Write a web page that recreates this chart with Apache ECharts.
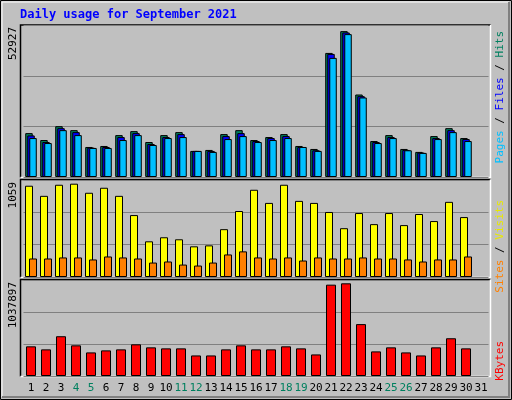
<!DOCTYPE html>
<html>
<head>
<meta charset="UTF-8">
<title>Daily usage</title>
<style>
  body{margin:0;background:#fff;}
  #chart{width:512px;height:400px;}
</style>
</head>
<body>
<div id="chart"></div>
<script src="https://cdn.jsdelivr.net/npm/echarts@6/dist/echarts.min.js"></script>
<script>
var days = ['1','2','3','4','5','6','7','8','9','10','11','12','13','14','15','16','17','18','19','20','21','22','23','24','25','26','27','28','29','30','31'];
var weekend = ['4','5','11','12','18','19','25','26'];

var hits  = [15925,13410,18440,17000,10895,11255,15205,16640,12690,15205,16285,9460,9815,15565,17000,13410,14490,15565,11255,10175,45020,52927,29930,13050,15205,10175,9100,14845,17720,14130,null];
var files = [15085,12690,17720,16285,10655,10895,14490,15925,11975,14490,15565,9460,9460,14845,15925,13050,14130,14845,10895,9700,44660,52445,29335,12690,14490,9815,8860,14130,17000,13770,null];
var pages = [14130,12330,17000,15205,10535,10535,13410,15205,11615,14130,14490,9460,9100,13770,14845,12690,13410,14130,10895,9460,43220,51845,28855,12330,14130,9700,8740,13770,16285,13050,null];

var visits = [1036,921,1047,1059,956,1013,921,703,405,451,428,348,359,543,749,990,841,1047,864,841,738,554,726,600,726,589,715,635,853,680,null];
var sites  = [210,210,222,222,199,233,222,210,164,176,141,130,164,256,291,222,210,222,187,222,210,210,222,210,210,199,176,199,199,233,null];

var kbytes = [332110,298150,445330,343430,264180,286820,298150,354760,320790,309470,309470,230210,230210,298150,343430,298150,298150,332110,309470,241540,1022750,1037897,581200,275500,320790,264180,230210,320790,422690,309470,null];

var chart = echarts.init(document.getElementById('chart'));
var mono = 'DejaVu Sans Mono';

function grid(top, height){
  return {left: 23.5, width: 465, top: top, height: height};
}
function yAx(i, max){
  return {gridIndex: i, min: 0, max: max, interval: max / 3,
    axisLabel: {show: false}, axisLine: {show: false}, axisTick: {show: false},
    splitLine: {lineStyle: {color: '#808080', width: 1}}};
}
function xAx(i, labels){
  return {gridIndex: i, type: 'category', data: days,
    axisLine: {show: false}, axisTick: {show: false},
    axisLabel: labels ? {
      margin: 7, fontFamily: mono, fontSize: 11, interval: 0,
      formatter: function(v){ return weekend.indexOf(v) >= 0 ? '{w|' + v + '}' : '{n|' + v + '}'; },
      rich: {w: {color: '#00805F', fontFamily: mono, fontSize: 11}, n: {color: '#000', fontFamily: mono, fontSize: 11}}
    } : {show: false}};
}
function bar(name, xi, data, color, width, gap){
  return {name: name, type: 'bar', xAxisIndex: xi, yAxisIndex: xi, data: data,
    barWidth: width, barGap: gap, animation: false,
    itemStyle: {color: color, borderColor: '#000', borderWidth: 1}};
}

function panel(x1, y1, x2, y2){
  return [
    {type: 'polyline', shape: {points: [[x1, y2], [x1, y1], [x2, y1]]}, style: {stroke: '#000', lineWidth: 1.5, fill: null}},
    {type: 'polyline', shape: {points: [[x2, y1], [x2, y2], [x1, y2]]}, style: {stroke: '#fff', lineWidth: 1.5, fill: null}}
  ];
}
function vtext(x, y, rich, text){
  return {type: 'text', x: x, y: y, rotation: Math.PI / 2,
    style: {text: text, rich: rich, align: 'right', verticalAlign: 'middle', font: '11px ' + mono, fill: '#000'}};
}

var graphics = [
  {type: 'rect', shape: {x: 0.5, y: 0.5, width: 511, height: 399}, style: {fill: '#C0C0C0', stroke: '#000', lineWidth: 1}},
  {type: 'polyline', shape: {points: [[2, 397], [2, 2], [509, 2]]}, style: {stroke: '#fff', lineWidth: 1, fill: null}},
  {type: 'polyline', shape: {points: [[509, 2], [509, 397], [2, 397]]}, style: {stroke: '#808080', lineWidth: 2, fill: null}},
  {type: 'text', x: 20, y: 15, style: {text: 'Daily usage for September 2021', font: 'bold 12px ' + mono, fill: '#0000FF', verticalAlign: 'middle'}}
].concat(panel(20.5, 25, 490.5, 177.5), panel(20.5, 179.5, 490.5, 277.5), panel(20.5, 279.5, 490.5, 376.5), [
  vtext(13, 27, null, '52927'),
  vtext(13, 182, null, '1059'),
  vtext(13, 282, null, '1037897'),
  vtext(500, 31, {p: {fill: '#00C0FF'}, f: {fill: '#0000FF'}, h: {fill: '#00805F'}}, '{p|Pages} / {f|Files} / {h|Hits}'),
  vtext(500, 200, {s: {fill: '#FF8000'}, v: {fill: '#E8E800'}}, '{s|Sites} / {v|Visits}'),
  vtext(500, 341, {k: {fill: '#FF0000'}}, '{k|KBytes}')
]);
graphics.forEach(function(g){
  if (g.style && g.style.rich) {
    for (var k in g.style.rich) { g.style.rich[k].font = '11px ' + mono; }
  }
});

var option = {
  animation: false,
  graphic: {elements: graphics},
  grid: [grid(25.5, 151.5), grid(180, 97), grid(280, 96)],
  xAxis: [xAx(0, false), xAx(1, false), xAx(2, true)],
  yAxis: [yAx(0, 54970), yAx(1, 1101), yAx(2, 1075000)],
  series: [
    bar('Hits', 0, hits, '#00805F', 7.5, '-73%'),
    bar('Files', 0, files, '#0000FF', 7.5, '-73%'),
    bar('Pages', 0, pages, '#00C0FF', 7.5, '-73%'),
    bar('Visits', 1, visits, '#FFFF00', 8, '-50%'),
    bar('Sites', 1, sites, '#FF8000', 8, '-50%'),
    bar('KBytes', 2, kbytes, '#FF0000', 10, '0%')
  ]
};
chart.setOption(option);
</script>
</body>
</html>
